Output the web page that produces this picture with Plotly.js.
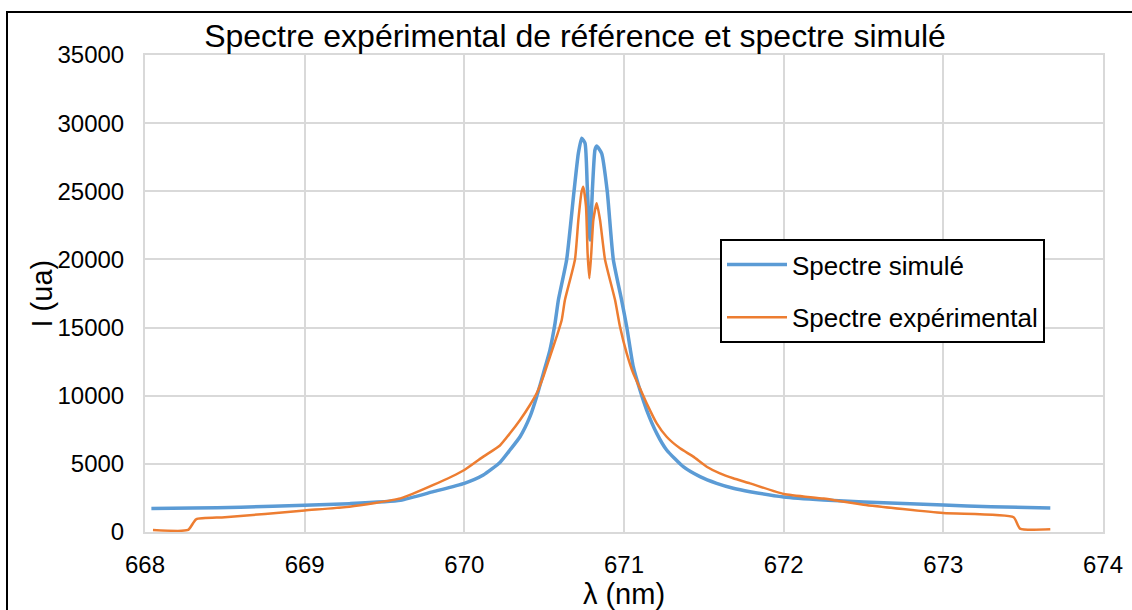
<!DOCTYPE html>
<html>
<head>
<meta charset="utf-8">
<script src="https://cdn.plot.ly/plotly-3.0.1.min.js"></script>
<style>
  html, body { margin: 0; padding: 0; overflow: hidden; background: #fff; }
  #chart { width: 1132px; height: 610px; }
  #frame { position: absolute; left: 6px; top: 11px; width: 1300px; height: 800px;
           border: 2px solid #000; pointer-events: none; }
</style>
</head>
<body>
<div id="chart"></div>
<div id="frame"></div>
<script>
// Simulated spectrum (blue)
const lambdaSim = [668.04, 668.3, 668.6, 669.0, 669.28, 669.6, 669.806, 670.0, 670.119, 670.223,
  670.286, 670.349, 670.411, 670.453, 670.495, 670.536, 670.568, 670.589, 670.641, 670.687,
  670.714, 670.735, 670.756, 670.77, 670.787, 670.803, 670.818, 670.829, 670.86, 670.895,
  670.933, 670.985, 671.017, 671.058, 671.1, 671.142, 671.205, 671.267, 671.371, 671.476,
  671.58, 671.684, 671.789, 672.0, 672.25, 672.5, 673.0, 673.3, 673.67];
const intensitySim = [1720, 1760, 1820, 1960, 2080, 2330, 2960, 3570, 4180, 5100,
  6020, 6990, 8460, 9930, 11640, 13350, 15310, 17020, 20000, 25000,
  27780, 28890, 28520, 25340, 21420, 25340, 28030, 28320, 27780, 25000,
  20000, 17020, 15060, 12130, 10420, 8950, 7240, 6020, 4790, 4060,
  3570, 3210, 2960, 2570, 2350, 2200, 1980, 1850, 1760];

// Experimental spectrum (orange)
const lambdaExp = [668.05, 668.27, 668.32, 668.5, 669.0, 669.28, 669.6, 669.806, 670.0, 670.119,
  670.223, 670.286, 670.349, 670.411, 670.453, 670.495, 670.536, 670.578, 670.61, 670.63,
  670.693, 670.714, 670.735, 670.745, 670.762, 670.772, 670.783, 670.795, 670.808, 670.829,
  670.85, 670.881, 670.944, 670.975, 671.017, 671.058, 671.1, 671.142, 671.205, 671.267,
  671.351, 671.434, 671.518, 671.601, 671.684, 671.789, 672.0, 672.25, 672.5, 673.0,
  673.44, 673.48, 673.67];
const intensityExp = [150, 150, 930, 1080, 1580, 1860, 2470, 3450, 4550, 5530,
  6350, 7240, 8220, 9320, 10180, 11400, 12860, 14330, 15560, 17020,
  20000, 22890, 25000, 25340, 23870, 20450, 18610, 20450, 22890, 24120,
  22890, 20000, 17020, 15060, 13110, 11640, 10540, 9440, 7970, 6990,
  6140, 5530, 4790, 4300, 3940, 3570, 2790, 2450, 2000, 1390,
  1080, 250, 200];

const xTicks = [668, 669, 670, 671, 672, 673, 674];
const yTicks = [0, 5000, 10000, 15000, 20000, 25000, 30000, 35000];

const FONT = '"Liberation Sans", Arial, sans-serif';

const traces = [
  { x: lambdaSim, y: intensitySim, type: 'scatter', mode: 'lines', name: 'Spectre simulé',
    legendgroup: 'a', line: { color: '#5B9BD5', width: 3.5, shape: 'spline', smoothing: 0.5 } },
  { x: lambdaExp, y: intensityExp, type: 'scatter', mode: 'lines', name: 'Spectre expérimental',
    legendgroup: 'b', line: { color: '#ED7D31', width: 2.5, shape: 'spline', smoothing: 0.5 } }
];

const layout = {
  width: 1132, height: 610,
  margin: { l: 145, r: 29, t: 55, b: 78 },
  paper_bgcolor: '#fff', plot_bgcolor: '#fff',
  font: { family: FONT, color: '#000' },
  title: { text: 'Spectre expérimental de référence et spectre simulé',
    font: { size: 32, family: FONT, color: '#000' },
    xref: 'container', x: 575 / 1132, xanchor: 'center',
    yref: 'container', y: 1 - 36 / 610, yanchor: 'middle' },
  xaxis: {
    range: [668, 674], tickvals: xTicks, ticktext: xTicks.map(String),
    showgrid: true, gridcolor: '#d9d9d9', gridwidth: 2,
    showline: true, mirror: true, linecolor: '#d9d9d9', linewidth: 2,
    zeroline: false, ticks: '', ticklabelstandoff: 10,
    tickfont: { size: 24, family: FONT, color: '#000' },
    title: { text: 'λ (nm)', font: { size: 29, family: FONT, color: '#000' }, standoff: 9 },
    automargin: false
  },
  yaxis: {
    range: [0, 35000], tickvals: yTicks, tickformat: 'd',
    showgrid: true, gridcolor: '#d9d9d9', gridwidth: 2,
    showline: true, mirror: true, linecolor: '#d9d9d9', linewidth: 2,
    zeroline: false, ticks: '', ticklabelstandoff: 14,
    tickfont: { size: 24, family: FONT, color: '#000' },
    automargin: false
  },
  annotations: [{
    text: 'I (ua)', textangle: -90, showarrow: false,
    xref: 'paper', x: (41 - 145) / 958, xanchor: 'center',
    yref: 'paper', y: 0.5, yanchor: 'middle',
    font: { size: 29, family: FONT, color: '#000' }
  }],
  showlegend: true,
  legend: {
    x: (720 - 145) / 958, y: 1 - (239 - 55) / 477, xanchor: 'left', yanchor: 'top',
    bgcolor: '#fff', bordercolor: '#000', borderwidth: 2,
    font: { size: 26, family: FONT, color: '#000' },
    traceorder: 'grouped', tracegroupgap: 16, itemwidth: 60
  }
};

Plotly.newPlot('chart', traces, layout, { displayModeBar: false, staticPlot: true });
</script>
</body>
</html>
